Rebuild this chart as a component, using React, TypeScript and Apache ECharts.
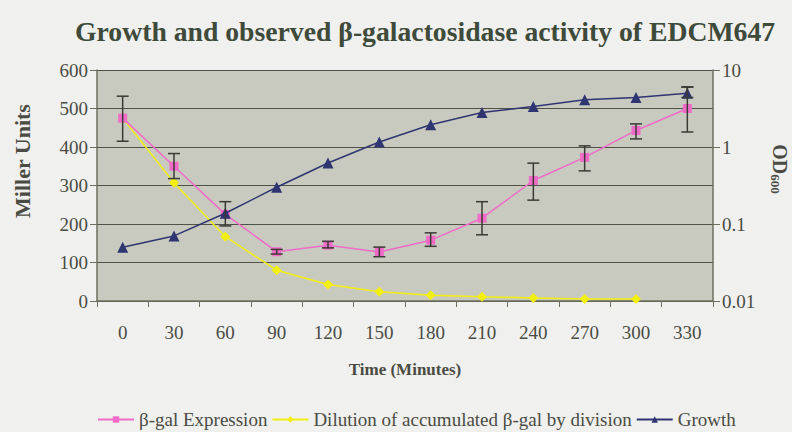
import React, { useEffect, useRef } from "react";
import * as echarts from "echarts";

const times = ["0", "30", "60", "90", "120", "150", "180", "210", "240", "270", "300", "330"];
const expression = [475, 350, 225, 128, 145, 127, 158, 215, 313, 373, 443, 500];
const expressionLow = [415, 318, 195, 122, 138, 115, 142, 172, 262, 338, 421, 439];
const expressionHigh = [532, 383, 258, 134, 155, 140, 177, 258, 358, 403, 460, 556];
const dilution = [475, 307, 167, 80, 43, 24, 15, 11, 8, 5, 5, null];
const growth = [0.05, 0.07, 0.138, 0.3, 0.62, 1.16, 1.95, 2.8, 3.35, 4.1, 4.4, 5.0];
const growthLow = [null, null, null, null, null, null, null, null, null, null, null, 4.4];
const growthHigh = [null, null, null, null, null, null, null, null, null, null, null, 6.0];

const FONT = "Liberation Serif";
const TXT = "#4a4c44";
const AXIS = "#6d705e";

function errRender(params: any, api: any) {
  const x = api.value(0);
  const lo = api.coord([x, api.value(1)]);
  const hi = api.coord([x, api.value(2)]);
  const w = 6;
  const st = { stroke: "#3a3a34", lineWidth: 1.5 };
  return {
    type: "group",
    children: [
      { type: "line", shape: { x1: lo[0], y1: lo[1], x2: hi[0], y2: hi[1] }, style: st },
      { type: "line", shape: { x1: lo[0] - w, y1: lo[1], x2: lo[0] + w, y2: lo[1] }, style: st },
      { type: "line", shape: { x1: hi[0] - w, y1: hi[1], x2: hi[0] + w, y2: hi[1] }, style: st },
    ],
  };
}

export default function App() {
  const ref = useRef<HTMLDivElement>(null);
  useEffect(() => {
    const chart = echarts.init(ref.current!, null, { renderer: "svg" });
    const expErr = times.map((_, i) => [i, expressionLow[i], expressionHigh[i]]);
    const grErr = times
      .map((_, i) => [i, growthLow[i], growthHigh[i]])
      .filter((d) => d[1] != null);
    chart.setOption({
      animation: false,
      backgroundColor: "#f0f0ee",
      textStyle: { fontFamily: FONT },
      title: {
        text: "Growth and observed β-galactosidase activity of EDCM647",
        left: 70,
        top: 12,
        textStyle: { fontFamily: FONT, fontSize: 27.7, fontWeight: "bold", color: "#3e4a3a" },
      },
      graphic: [
        {
          type: "text",
          x: 22,
          y: 161,
          rotation: Math.PI / 2,
          style: {
            text: "Miller Units",
            align: "center",
            verticalAlign: "middle",
            fontFamily: FONT,
            fontSize: 22,
            fontWeight: "bold",
            fill: TXT,
          },
        },
        {
          type: "text",
          x: 780,
          y: 169,
          rotation: -Math.PI / 2,
          style: {
            text: "{a|OD}{b|600}",
            align: "center",
            verticalAlign: "middle",
            rich: {
              a: { fontFamily: FONT, fontSize: 20, fontWeight: "bold", fill: TXT, color: TXT },
              b: { fontFamily: FONT, fontSize: 13, fontWeight: "bold", fill: TXT, color: TXT, verticalAlign: "bottom", padding: [9, 0, 0, 0] },
            },
          },
        },
      ],
      legend: {
        top: 405,
        left: 92,
        itemGap: 4,
        itemWidth: 36,
        itemHeight: 8,
        textStyle: { fontFamily: FONT, fontSize: 19, fontWeight: "normal", color: TXT },
        data: ["β-gal Expression", "Dilution of accumulated β-gal by division", "Growth"],
      },
      grid: {
        left: 97,
        right: 79,
        top: 70,
        bottom: 131,
        outerBoundsMode: "none",
        containLabel: false,
        show: true,
        backgroundColor: "#c9cabf",
        borderWidth: 0,
      },
      xAxis: {
        type: "category",
        data: times,
        boundaryGap: true,
        name: "Time (Minutes)",
        nameLocation: "middle",
        nameGap: 60,
        nameTextStyle: { fontFamily: FONT, fontSize: 17, fontWeight: "bold", color: TXT },
        axisLine: { lineStyle: { color: AXIS, width: 1.5 } },
        axisTick: { show: true, interval: 0, length: 6, lineStyle: { color: AXIS } },
        axisLabel: { fontFamily: FONT, fontSize: 19, fontWeight: "normal", color: TXT, margin: 22 },
      },
      yAxis: [
        {
          type: "value",
          min: 0,
          max: 600,
          interval: 100,
          axisLine: { show: true, lineStyle: { color: AXIS, width: 1.5 } },
          axisTick: { show: true, length: 7, lineStyle: { color: AXIS } },
          axisLabel: { fontFamily: FONT, fontSize: 19, fontWeight: "normal", color: TXT, margin: 9 },
          splitLine: { show: true, lineStyle: { color: "#505248", width: 1 } },
        },
        {
          type: "log",
          logBase: 10,
          min: 0.01,
          max: 10,
          position: "right",
          axisLine: { show: true, lineStyle: { color: AXIS, width: 1.5 } },
          axisTick: { show: true, length: 7, lineStyle: { color: AXIS } },
          axisLabel: { fontFamily: FONT, fontSize: 19, fontWeight: "normal", color: TXT, margin: 9 },
          splitLine: { show: false },
        },
      ],
      series: [
        {
          name: "β-gal Expression",
          type: "line",
          data: expression,
          yAxisIndex: 0,
          symbol: "rect",
          symbolSize: 9,
          color: "#f06bc8",
          lineStyle: { width: 1.5, color: "#f06bc8" },
          itemStyle: { color: "#f06bc8" },
          z: 4,
        },
        {
          name: "Dilution of accumulated β-gal by division",
          type: "line",
          data: dilution,
          yAxisIndex: 0,
          symbol: "diamond",
          symbolSize: 10,
          color: "#f2ee10",
          lineStyle: { width: 1.5, color: "#f2ee10" },
          itemStyle: { color: "#f2ee10" },
          z: 3,
        },
        {
          name: "Growth",
          type: "line",
          data: growth,
          yAxisIndex: 1,
          symbol: "triangle",
          symbolSize: 11,
          color: "#2f3571",
          lineStyle: { width: 1.5, color: "#2f3571" },
          itemStyle: { color: "#2f3571" },
          z: 5,
        },
        {
          name: "expErr",
          type: "custom",
          yAxisIndex: 0,
          renderItem: errRender,
          data: expErr,
          encode: { x: 0, y: [1, 2] },
          z: 6,
        },
        {
          name: "grErr",
          type: "custom",
          yAxisIndex: 1,
          renderItem: errRender,
          data: grErr,
          encode: { x: 0, y: [1, 2] },
          z: 6,
        },
      ],
    });
    return () => chart.dispose();
  }, []);
  return <div ref={ref} style={{ width: 792, height: 432, position: "fixed", left: 0, top: 0 }} />;
}
